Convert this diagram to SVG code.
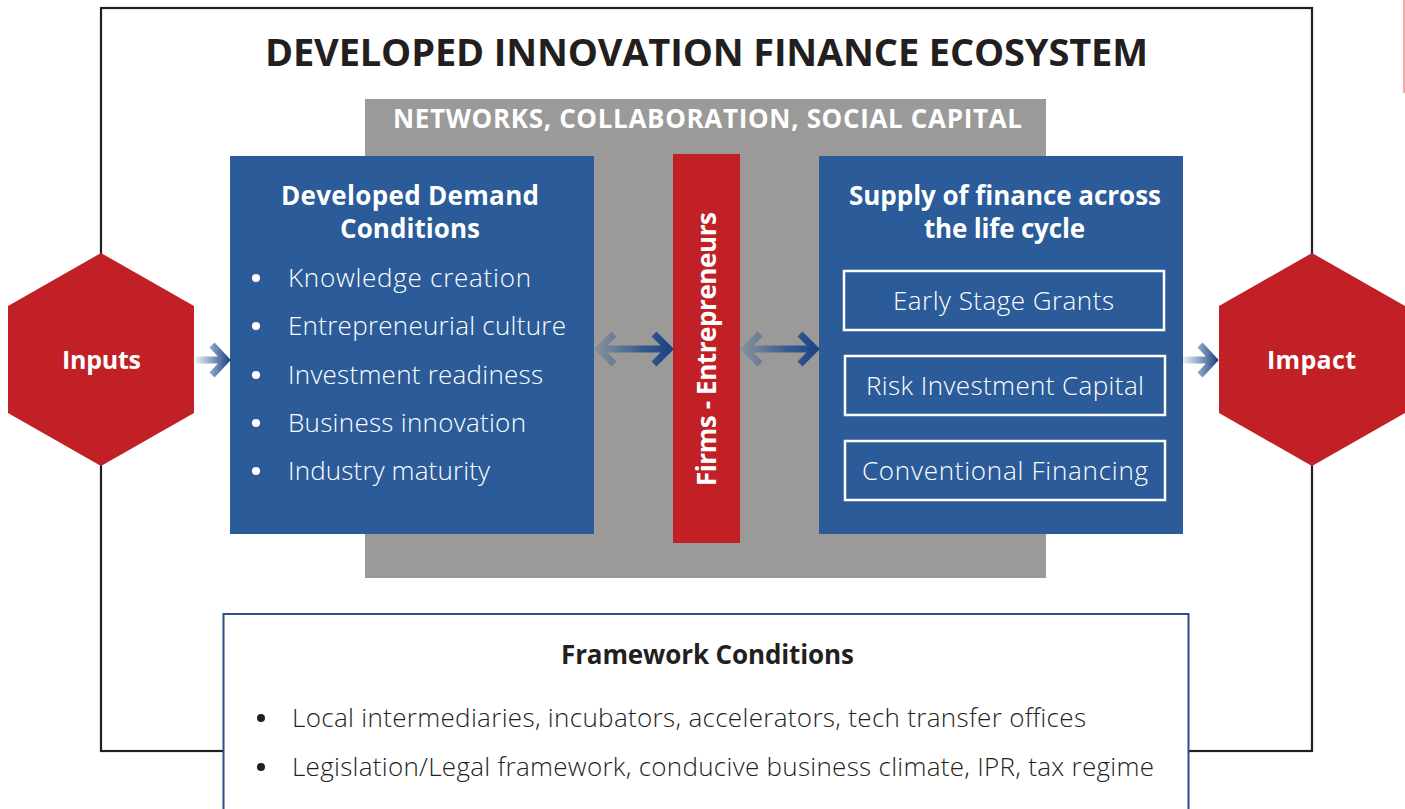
<svg xmlns="http://www.w3.org/2000/svg" width="1405" height="809" viewBox="0 0 1405 809">
<defs>
<style>
.t{font-family:"Open Sans",Lato,"Liberation Sans",sans-serif;}
.b{font-weight:700;}
.l{font-weight:300;}
.w{fill:#ffffff;}
.k{fill:#231f20;}
.blue{fill:#2b5b98;}
.red{fill:#c02026;}
.ib{fill:none;stroke:#ffffff;stroke-width:2.5;}
.arr{fill:none;stroke-width:7;stroke-linejoin:miter;stroke-linecap:butt;}
</style>
<linearGradient id="g1" gradientUnits="userSpaceOnUse" x1="595" y1="0" x2="673" y2="0">
<stop offset="0" stop-color="#2b5b98" stop-opacity="0.15"/>
<stop offset="0.6" stop-color="#24508f" stop-opacity="0.85"/>
<stop offset="1" stop-color="#1a4282"/>
</linearGradient>
<linearGradient id="g2" gradientUnits="userSpaceOnUse" x1="741" y1="0" x2="819" y2="0">
<stop offset="0" stop-color="#2b5b98" stop-opacity="0.15"/>
<stop offset="0.6" stop-color="#24508f" stop-opacity="0.85"/>
<stop offset="1" stop-color="#1a4282"/>
</linearGradient>
<linearGradient id="g3" gradientUnits="userSpaceOnUse" x1="195" y1="0" x2="230" y2="0">
<stop offset="0" stop-color="#2b5b98" stop-opacity="0.1"/>
<stop offset="1" stop-color="#1a4282"/>
</linearGradient>
<linearGradient id="g4" gradientUnits="userSpaceOnUse" x1="1183" y1="0" x2="1218" y2="0">
<stop offset="0" stop-color="#2b5b98" stop-opacity="0.1"/>
<stop offset="1" stop-color="#1a4282"/>
</linearGradient>
</defs>
<rect x="0" y="0" width="1405" height="809" fill="#ffffff"/>
<line x1="1404" y1="0" x2="1404" y2="93" stroke="#f08c8c" stroke-width="1.5"/>

<g id="frame">
<rect x="101" y="8" width="1211" height="743" fill="none" stroke="#231f20" stroke-width="2.2"/>
<text class="t b k" x="706.5" y="66" font-size="38" text-anchor="middle" textLength="883">DEVELOPED INNOVATION FINANCE ECOSYSTEM</text>
</g>

<g id="networks">
<rect x="365" y="99" width="681" height="479" fill="#9b9a98"/>
<text class="t b w" x="707.5" y="128" font-size="26" text-anchor="middle" textLength="629">NETWORKS, COLLABORATION, SOCIAL CAPITAL</text>
</g>

<g id="demand">
<rect class="blue" x="230" y="156" width="364" height="378"/>
<text class="t b w" x="410" y="205" font-size="26" text-anchor="middle" textLength="258">Developed Demand</text>
<text class="t b w" x="410" y="238" font-size="26" text-anchor="middle" textLength="140">Conditions</text>
<g class="w">
<circle cx="256" cy="278" r="4"/>
<circle cx="256" cy="326" r="4"/>
<circle cx="256" cy="375" r="4"/>
<circle cx="256" cy="423" r="4"/>
<circle cx="256" cy="471" r="4"/>
</g>
<g class="t l w" font-size="26">
<text x="288" y="287" textLength="243">Knowledge creation</text>
<text x="288" y="335" textLength="278">Entrepreneurial culture</text>
<text x="288" y="384" textLength="255">Investment readiness</text>
<text x="288" y="432" textLength="238">Business innovation</text>
<text x="288" y="480" textLength="202">Industry maturity</text>
</g>
</g>

<g id="firms">
<rect class="red" x="673" y="154" width="67" height="389"/>
<text class="t b w" transform="translate(716,349) rotate(-90)" font-size="26" text-anchor="middle" textLength="274">Firms - Entrepreneurs</text>
</g>

<g id="supply">
<rect class="blue" x="819" y="156" width="364" height="378"/>
<text class="t b w" x="1005" y="205" font-size="26" text-anchor="middle" textLength="312">Supply of finance across</text>
<text class="t b w" x="1004.5" y="238" font-size="26" text-anchor="middle" textLength="161">the life cycle</text>
<rect class="ib" x="844" y="271" width="320" height="59"/>
<rect class="ib" x="845" y="356" width="320" height="59"/>
<rect class="ib" x="845" y="441" width="320" height="59"/>
<g class="t l w" font-size="26" text-anchor="middle">
<text x="1003.5" y="310" textLength="221">Early Stage Grants</text>
<text x="1005" y="395" textLength="278">Risk Investment Capital</text>
<text x="1005" y="480" textLength="286">Conventional Financing</text>
</g>
</g>

<g id="inputs">
<polygon class="red" points="101,253 194,306 194,413 101,466 8,413 8,306"/>
<text class="t b w" x="101.5" y="369" font-size="25" text-anchor="middle" textLength="79">Inputs</text>
</g>

<g id="impact">
<polygon class="red" points="1312,253 1405,306 1405,413 1312,466 1219,413 1219,306"/>
<text class="t b w" x="1311.5" y="369" font-size="25" text-anchor="middle" textLength="89">Impact</text>
</g>

<g id="framework">
<rect x="223.5" y="614" width="965" height="210" fill="#ffffff" stroke="#2b4f86" stroke-width="2"/>
<text class="t b k" x="707.5" y="664" font-size="26" text-anchor="middle" textLength="293">Framework Conditions</text>
<circle class="k" cx="261" cy="718" r="4"/>
<circle class="k" cx="261" cy="767" r="4"/>
<g class="t l k" font-size="26">
<text x="292" y="727" textLength="794">Local intermediaries, incubators, accelerators, tech transfer offices</text>
<text x="292" y="776" textLength="862">Legislation/Legal framework, conducive business climate, IPR, tax regime</text>
</g>
</g>

<g id="connectors">
<path class="arr" stroke="url(#g1)" d="M598,349 H670 M614,334 L599,349 L614,364 M654,334 L669,349 L654,364"/>
<path class="arr" stroke="url(#g2)" d="M744,349 H816 M760,334 L745,349 L760,364 M800,334 L815,349 L800,364"/>
<path class="arr" stroke="url(#g3)" d="M195,360 H226 M212,345 L226,360 L212,375"/>
<path class="arr" stroke="url(#g4)" d="M1183,360 H1214 M1200,345 L1214,360 L1200,375"/>
</g>
</svg>
